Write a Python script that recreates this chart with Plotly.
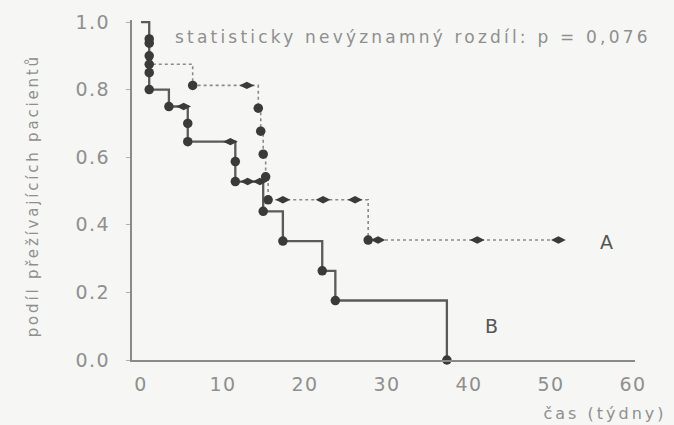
import plotly.graph_objects as go

# ---- data ----
# Group A: Kaplan-Meier steps (time in weeks, survival fraction) - event points
A_time = [0, 1, 1, 6.3, 14.3, 14.6, 14.9, 15.2, 15.5, 27.7]
A_surv = [1.0, 0.9375, 0.875, 0.8125, 0.745, 0.677, 0.609, 0.542, 0.474, 0.355]
A_end = 50.9
A_cens_time = [12.9, 17.3, 22.2, 26.1, 28.9, 41.0, 50.9]
A_cens_surv = [0.8125, 0.474, 0.474, 0.474, 0.355, 0.355, 0.355]

# Group B
B_time = [0, 1, 1, 1, 1, 3.4, 5.7, 5.7, 11.5, 11.5, 14.9, 17.3, 22.1, 23.7, 37.3]
B_surv = [1.0, 0.95, 0.90, 0.85, 0.80, 0.75, 0.70, 0.646, 0.587, 0.528, 0.44, 0.352, 0.264, 0.176, 0.0]
B_cens_time = [5.2, 10.9, 13.0, 14.5]
B_cens_surv = [0.75, 0.646, 0.528, 0.528]

x_ticks = [0, 10, 20, 30, 40, 50, 60]
y_ticks = [0.0, 0.2, 0.4, 0.6, 0.8, 1.0]
y_tick_text = ["0.0", "0.2", "0.4", "0.6", "0.8", "1.0"]

FONT = "DejaVu Sans"
TXT = "#8f8f8f"
MK = "#3a3a3a"

fig = go.Figure()

# A line (dotted, light)
fig.add_trace(go.Scatter(
    x=A_time + [A_end], y=A_surv + [A_surv[-1]], mode="lines",
    line=dict(shape="hv", color="#8a8a8a", width=1.6, dash="dot"),
    hoverinfo="skip", showlegend=False, cliponaxis=False))
# B line (solid, darker)
fig.add_trace(go.Scatter(
    x=B_time, y=B_surv, mode="lines",
    line=dict(shape="hv", color="#5a5a5a", width=2.3),
    hoverinfo="skip", showlegend=False, cliponaxis=False))

# event markers
fig.add_trace(go.Scatter(
    x=A_time[1:], y=A_surv[1:], mode="markers",
    marker=dict(symbol="circle", size=9.5, color=MK),
    showlegend=False, cliponaxis=False))
fig.add_trace(go.Scatter(
    x=B_time[1:], y=B_surv[1:], mode="markers",
    marker=dict(symbol="circle", size=9.5, color=MK),
    showlegend=False, cliponaxis=False))

# censored markers
fig.add_trace(go.Scatter(
    x=A_cens_time, y=A_cens_surv, mode="markers",
    marker=dict(symbol="diamond-wide", size=10.5, color=MK, line=dict(width=0)),
    showlegend=False, cliponaxis=False))
fig.add_trace(go.Scatter(
    x=B_cens_time, y=B_cens_surv, mode="markers",
    marker=dict(symbol="diamond-wide", size=10.5, color=MK, line=dict(width=0)),
    showlegend=False, cliponaxis=False))

fig.update_layout(
    width=674, height=425,
    margin=dict(l=132, r=39, t=20, b=65, autoexpand=False),
    paper_bgcolor="#f6f6f4", plot_bgcolor="#f6f6f4",
    font=dict(family=FONT, color=TXT, size=18),
    xaxis=dict(range=[-1.1, 60.24], tickvals=x_ticks, showgrid=False,
               zeroline=False, showline=True, linecolor="#8a8a8a", linewidth=2,
               ticks="", ticklabelstandoff=6, automargin=False,
               tickfont=dict(family=FONT, size=19, color=TXT)),
    yaxis=dict(range=[0, 1.006], tickvals=y_ticks, ticktext=y_tick_text,
               showgrid=False, zeroline=False, showline=True, automargin=False,
               linecolor="#8a8a8a", linewidth=2, ticks="outside", ticklen=4,
               tickcolor="#b0b0b0", ticklabelstandoff=12,
               tickfont=dict(family=FONT, size=19, color=TXT)),
    annotations=[
        dict(text="statisticky nevýznamný rozdíl: p = 0,076", x=33.2, y=0.956,
             xref="x", yref="y", xanchor="center", yanchor="middle",
             showarrow=False, font=dict(family=FONT, size=17, color=TXT)),
        dict(text="A", x=56.8, y=0.349, xref="x", yref="y", showarrow=False,
             font=dict(family=FONT, size=19, color="#555555")),
        dict(text="B", x=42.8, y=0.10, xref="x", yref="y", showarrow=False,
             font=dict(family=FONT, size=19, color="#555555")),
        dict(text="čas (týdny)", x=0.94, y=-0.156, xref="paper", yref="paper",
             xanchor="center", yanchor="middle", showarrow=False,
             font=dict(family=FONT, size=16, color=TXT)),
        dict(text="podíl přežívajících pacientů", x=-0.197, y=0.485,
             xref="paper", yref="paper", textangle=-90, showarrow=False,
             xanchor="center", yanchor="middle",
             font=dict(family=FONT, size=15, color=TXT)),
    ],
)

# no page margin; widen the lettering a little, like the scanned original
post = """
(function(){
  document.body.style.margin = '0';
  document.body.style.padding = '0';
  var gd = document.getElementById('{plot_id}');
  function ls(){
    gd.querySelectorAll('text.annotation-text').forEach(function(t){
      var s = t.textContent;
      if (s.indexOf('statisticky') === 0) t.style.letterSpacing = '3.2px';
      else if (s.indexOf('čas') === 0) t.style.letterSpacing = '3px';
      else if (s.indexOf('podíl') === 0) t.style.letterSpacing = '2.8px';
    });
    gd.querySelectorAll('.xtick text, .ytick text').forEach(function(t){
      t.style.letterSpacing = '1.5px';
    });
  }
  ls();
  setTimeout(ls, 30);
  if (gd.on) gd.on('plotly_afterplot', ls);
})();
"""

fig.write_html("out.html", post_script=post,
               config={"displayModeBar": False, "staticPlot": True})
